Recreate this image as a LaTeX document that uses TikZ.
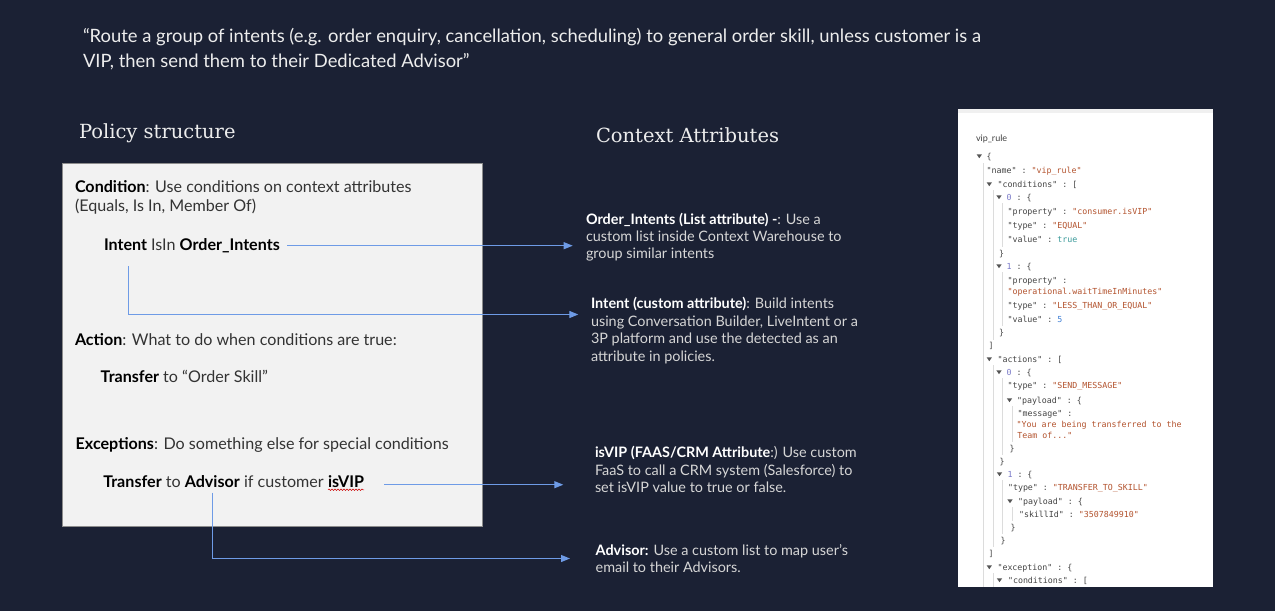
\documentclass[tikz,border=0pt]{standalone}
\usepackage{fontspec}
\setmainfont{Lato}
\newfontfamily\slab{DejaVu Serif}
\setmonofont{DejaVu Sans Mono}
\usetikzlibrary{arrows.meta,decorations.pathmorphing}
\definecolor{bg}{HTML}{1B2134}
\definecolor{boxfill}{HTML}{F2F2F2}
\definecolor{boxline}{HTML}{8C8C8C}
\definecolor{arrc}{HTML}{6E9BE6}
\definecolor{titlec}{HTML}{EDEDED}
\definecolor{descc}{HTML}{D6D6D6}
\definecolor{boxc}{HTML}{333333}
\definecolor{jkey}{HTML}{444444}
\definecolor{jstr}{HTML}{B3532E}
\definecolor{jidx}{HTML}{7B7BC9}
\definecolor{jtrue}{HTML}{3A9A9A}
\definecolor{jfive}{HTML}{3F7FD6}
\definecolor{jguide}{HTML}{DCDCDC}
\definecolor{jtric}{HTML}{555555}
\newcommand\jl[4]{\node[jtxt] (#1) at (#2,#3+3) {#4};}
\newcommand\jtri[2]{\fill[jtric] (#1-2.6,#2-1.6) -- (#1+2.6,#2-1.6) -- (#1,#2+2.2) -- cycle;}
\newcommand\js[1]{\textcolor{jstr}{"#1"}}
\newcommand\jk[1]{"#1"}
\begin{document}
\begin{tikzpicture}[x=1pt,y=-1pt,
  every node/.style={inner sep=0pt,outer sep=0pt},
  title/.style={anchor=base west,text=titlec,font=\fontsize{18.4}{20}\selectfont},
  head/.style={anchor=base west,text=titlec,font=\slab\fontsize{19.5}{22}\selectfont},
  boxt/.style={anchor=base west,text=boxc,font=\fontsize{16.1}{19}\selectfont},
  desc/.style={anchor=base west,text=descc,font=\fontsize{14.4}{17}\selectfont},
  jtxt/.style={anchor=base west,text=jkey,font=\ttfamily\fontsize{8.3}{10}\selectfont},
  arr/.style={draw=arrc,line width=1.1pt,-{Triangle[length=9pt,width=7pt]}},
  guide/.style={draw=jguide,line width=0.6pt}]
\useasboundingbox (0,0) rectangle (1275,611);
\fill[bg] (0,0) rectangle (1275,611);

% title
\node[title] (t1) at (83,42) {“Route a group of intents (e.g. order enquiry, cancellation, scheduling) to general order skill, unless customer is a};
\node[title] (t2) at (83,67) {VIP, then send them to their Dedicated Advisor”};

% headers
\node[head] (h1) at (79,138) {Policy structure};
\node[head] (h2) at (596,142) {Context Attributes};

% policy box
\draw[fill=boxfill,draw=boxline,line width=0.8pt] (62,163) rectangle (482.7,526.7);
\node[boxt] (c1) at (75,192) {\textbf{\color{black}Condition}: Use conditions on context attributes};
\node[boxt] (c2) at (75,211) {(Equals, Is In, Member Of)};
\node[boxt] (c3) at (104,250) {\textbf{\color{black}Intent} IsIn \textbf{\color{black}Order\_Intents}};
\node[boxt] (c4) at (75,345) {\textbf{\color{black}Action}: What to do when conditions are true:};
\node[boxt] (c5) at (100.7,382.7) {\textbf{\color{black}Transfer} to “Order Skill”};
\node[boxt] (c6) at (75.7,449) {\textbf{\color{black}Exceptions}: Do something else for special conditions};
\node[boxt] (c7) at (103.3,487.3) {\textbf{\color{black}Transfer} to \textbf{\color{black}Advisor} if customer};
\node[boxt,anchor=base west] (c8) at ([xshift=4.3pt]c7.base east) {\textbf{\color{black}isVIP}};
\draw[red!80!black,line width=0.5pt,decorate,decoration={snake,amplitude=0.8pt,segment length=3pt}]
  ([yshift=-2.5pt]c8.base west) -- ([yshift=-2.5pt]c8.base east);

% descriptions
\node[desc] (o1) at (586,224) {\textbf{\color{white}Order\_Intents (List attribute) -}: Use a};
\node[desc] (o2) at (586,241) {custom list inside Context Warehouse to};
\node[desc] (o3) at (586,258.3) {group similar intents};
\node[desc] (i1) at (591,308.3) {\textbf{\color{white}Intent (custom attribute)}: Build intents};
\node[desc] (i2) at (591,326) {using Conversation Builder, LiveIntent or a};
\node[desc] (i3) at (591,343.5) {3P platform and use the detected as an};
\node[desc] (i4) at (591,361) {attribute in policies.};
\node[desc] (v1) at (595,457.3) {\textbf{\color{white}isVIP (FAAS/CRM Attribute}:) Use custom};
\node[desc] (v2) at (595,475) {FaaS to call a CRM system (Salesforce) to};
\node[desc] (v3) at (595,492.7) {set isVIP value to true or false.};
\node[desc] (d1) at (595.7,555) {\textbf{\color{white}Advisor:} Use a custom list to map user’s};
\node[desc] (d2) at (595.7,572.7) {email to their Advisors.};

% connectors
\coordinate (a1s) at (287,245.7);
\coordinate (a1e) at (572.7,245.7);
\coordinate (a2s) at (128.3,266);
\coordinate (a2e) at (578.3,314.5);
\coordinate (a3s) at (384,484.7);
\coordinate (a3e) at (563.3,484.7);
\coordinate (a4s) at (212.3,492.7);
\coordinate (a4e) at (570,558.5);
\draw[arr] (a1s) -- (a1e);
\draw[arr] (a2s) |- (a2e);
\draw[arr] (a3s) -- (a3e);
\draw[arr] (a4s) |- (a4e);

% JSON panel
\fill[white] (957.5,109) rectangle (1213,587);
\fill[black!6] (957.5,109) rectangle (1213,113);
\node[anchor=base west,text=black!75,font=\fontsize{9}{10}\selectfont] (vr) at (976,141) {vip\_rule};
% guides
\draw[guide] (983,163) -- (983,587);
\draw[guide] (993,190) -- (993,340);
\draw[guide] (1002.5,203) -- (1002.5,247);
\draw[guide] (1002.5,272) -- (1002.5,326);
\draw[guide] (993,365) -- (993,547);
\draw[guide] (1002.5,378) -- (1002.5,455);
\draw[guide] (1012.5,406) -- (1012.5,442);
\draw[guide] (1002.5,480) -- (1002.5,534);
\draw[guide] (1012.5,507) -- (1012.5,521);
\draw[guide] (993,573) -- (993,587);
% triangles
\jtri{979.3}{156}
\jtri{989.3}{184}
\jtri{999}{197}
\jtri{999}{266}
\jtri{989.3}{359}
\jtri{999}{372}
\jtri{1009.5}{400}
\jtri{999.5}{474}
\jtri{1010}{501}
\jtri{989.3}{567}
\jtri{999.5}{580}
% lines
\jl{j1}{986.7}{156}{\{}
\jl{j2}{986.7}{170}{\jk{name} : \js{vip\_rule}}
\jl{j3}{997.5}{184}{\jk{conditions} : [}
\jl{j4}{1006.7}{197}{\textcolor{jidx}{0} : \{}
\jl{j5}{1007.5}{211}{\jk{property} : \js{consumer.isVIP}}
\jl{j6}{1007.5}{225}{\jk{type} : \js{EQUAL}}
\jl{j7}{1007.5}{239}{\jk{value} : \textcolor{jtrue}{true}}
\jl{j8}{999}{253}{\}}
\jl{j9}{1006.7}{266}{\textcolor{jidx}{1} : \{}
\jl{j10}{1007.5}{280}{\jk{property} :}
\jl{j11}{1007.5}{291}{\js{operational.waitTimeInMinutes}}
\jl{j12}{1007.5}{305}{\jk{type} : \js{LESS\_THAN\_OR\_EQUAL}}
\jl{j13}{1007.5}{319.5}{\jk{value} : \textcolor{jfive}{5}}
\jl{j14}{999}{332}{\}}
\jl{j15}{988.5}{345}{]}
\jl{j16}{997.5}{359}{\jk{actions} : [}
\jl{j17}{1006.7}{372}{\textcolor{jidx}{0} : \{}
\jl{j18}{1007.5}{385}{\jk{type} : \js{SEND\_MESSAGE}}
\jl{j19}{1017}{400}{\jk{payload} : \{}
\jl{j20}{1017.5}{413}{\jk{message} :}
\jl{j21}{1016.7}{424}{\textcolor{jstr}{"You are being transferred to the}}
\jl{j22}{1017.3}{435}{\textcolor{jstr}{Team of..."}}
\jl{j23}{1009.5}{448}{\}}
\jl{j24}{999.5}{461}{\}}
\jl{j25}{1007.5}{474}{\textcolor{jidx}{1} : \{}
\jl{j26}{1008}{487.5}{\jk{type} : \js{TRANSFER\_TO\_SKILL}}
\jl{j27}{1018}{501}{\jk{payload} : \{}
\jl{j28}{1019}{514.5}{\jk{skillId} : \js{3507849910}}
\jl{j29}{1010.5}{527}{\}}
\jl{j30}{1000.5}{540}{\}}
\jl{j31}{988.5}{553}{]}
\jl{j32}{997.5}{567}{\jk{exception} : \{}
\jl{j33}{1008}{580.5}{\jk{conditions} : [}
\end{tikzpicture}
\end{document}
